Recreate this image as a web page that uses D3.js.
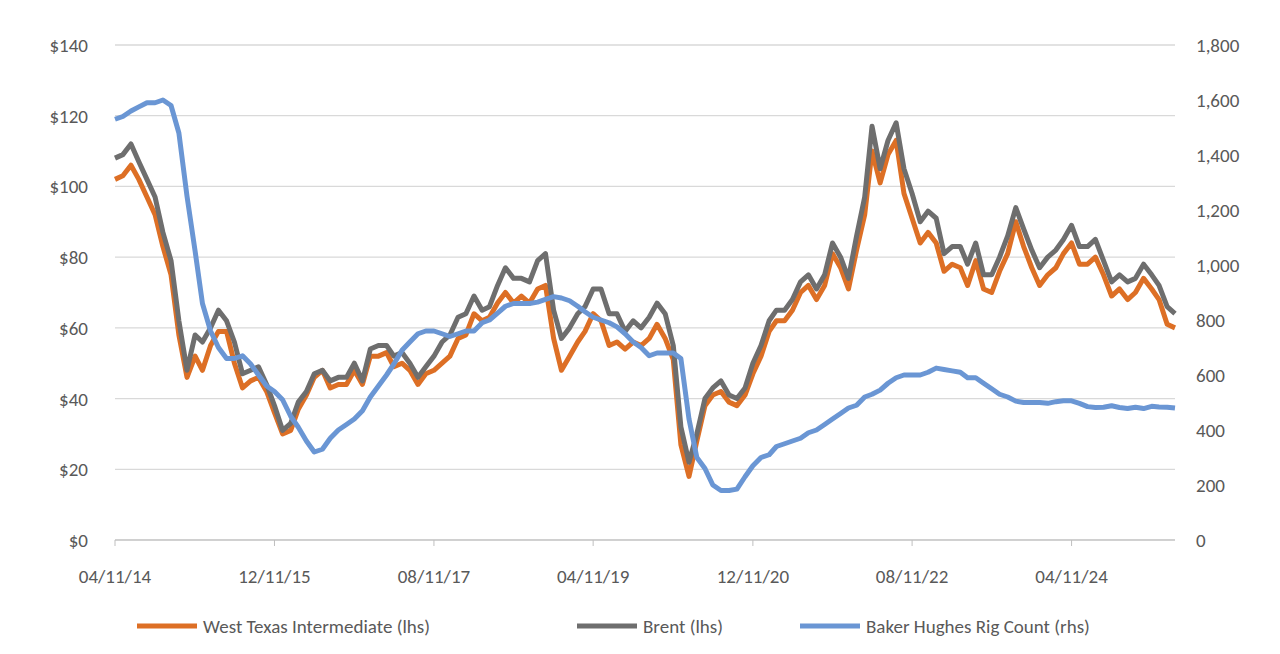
<!DOCTYPE html>
<html><head><meta charset="utf-8">
<script src="https://cdn.jsdelivr.net/npm/d3@7"></script>
<style>body{margin:0;background:#fff;font-family:Calibri,Carlito,"Liberation Sans",sans-serif}</style>
</head><body><svg id="c" width="1280" height="654"></svg>
<script>
const startMonth = "2014-04";
const brent = [108,109,112,107,102,97,87,79,62,
48,58,56,60,65,62,56,47,48,49,44,38,
31,33,39,42,47,48,45,46,46,50,45,54,
55,55,52,53,50,46,49,52,56,58,63,64,
69,65,66,72,77,74,74,73,79,81,65,57,
60,64,66,71,71,64,64,59,62,60,63,67,
64,55,32,22,30,40,43,45,41,40,43,50,
55,62,65,65,68,73,75,71,75,84,80,74,
86,97,117,105,113,118,105,98,90,93,91,81,
83,83,78,84,75,75,80,86,94,88,82,77,
80,82,85,89,83,83,85,79,73,75,73,74,
78,75,72,66,64];
const wti = [102,103,106,102,97,92,83,75,58,
46,52,48,55,59,59,50,43,45,46,42,36,
30,31,37,41,46,48,43,44,44,48,44,52,
52,53,49,50,48,44,47,48,50,52,57,58,
64,62,63,67,70,67,69,67,71,72,57,48,
52,56,59,64,62,55,56,54,56,55,57,61,
57,51,27,18,28,38,41,42,39,38,41,47,
52,59,62,62,65,70,72,68,72,81,77,71,
82,92,110,101,109,113,98,91,84,87,84,76,
78,77,72,79,71,70,76,81,90,83,77,72,
75,77,81,84,78,78,80,75,69,71,68,70,
74,71,68,61,60];
const rigs = [1530,1540,1560,1575,1590,1590,1600,1580,1480,
1250,1050,860,760,700,660,660,670,640,600,560,540,
510,450,410,360,320,330,370,400,420,440,470,520,
560,600,640,690,720,750,760,760,750,740,750,760,
760,790,800,825,850,860,860,860,865,875,885,880,
870,850,830,810,800,790,775,750,720,700,670,680,
680,680,660,440,300,260,200,180,180,185,230,270,
300,310,340,350,360,370,390,400,420,440,460,480,
490,520,530,545,570,590,600,600,600,610,625,620,
615,610,590,590,570,550,530,520,505,500,500,500,
497,503,506,506,497,485,482,483,488,482,478,483,
478,486,484,483,480];
const leftTicks = [0,20,40,60,80,100,120,140];
const rightTicks = [0,200,400,600,800,1000,1200,1400,1600,1800];
const xTickLabels = ["04/11/14","12/11/15","08/11/17","04/11/19","12/11/20","08/11/22","04/11/24"];
const xTickDates = ["2014-04-11","2015-12-11","2017-08-11","2019-04-11","2020-12-11","2022-08-11","2024-04-11"];
const seriesNames = ["West Texas Intermediate (lhs)","Brent (lhs)","Baker Hughes Rig Count (rhs)"];
const colors = ["#DD6F25","#6E6E6E","#6A96D4"];

const svg = d3.select("#c");
const pd = d3.timeParse("%Y-%m-%d");
const dates = brent.map((_,i)=>{const d=pd("2014-04-11");d.setMonth(d.getMonth()+i);return d;});
const x = d3.scaleTime().domain([pd("2014-04-11"), dates[dates.length-1]]).range([115,1175]);
const yL = d3.scaleLinear().domain([0,140]).range([540,45]);
const yR = d3.scaleLinear().domain([0,1800]).range([540,45]);

const g = svg.append("g");
g.selectAll("line.grid").data(leftTicks).join("line")
 .attr("x1",115).attr("x2",1175).attr("y1",d=>yL(d)).attr("y2",d=>yL(d))
 .attr("stroke","#d9d9d9").attr("stroke-width",1.3);

const fontSz = 19, txtCol = "#595959";
g.selectAll("text.l").data(leftTicks).join("text").attr("x",88).attr("y",d=>yL(d)+7)
 .attr("text-anchor","end").attr("font-size",fontSz).attr("fill",txtCol).text(d=>"$"+d);
g.selectAll("text.r").data(rightTicks).join("text").attr("x",1196).attr("y",d=>yR(d)+7)
 .attr("text-anchor","start").attr("font-size",fontSz).attr("fill",txtCol).text(d=>d3.format(",")(d));
g.append("line").attr("x1",115).attr("x2",1175).attr("y1",540).attr("y2",540).attr("stroke","#bfbfbf");
xTickDates.forEach((s,i)=>{
  const xx = x(pd(s));
  g.append("line").attr("x1",xx).attr("x2",xx).attr("y1",540).attr("y2",546).attr("stroke","#bfbfbf");
  g.append("text").attr("x",xx).attr("y",583).attr("text-anchor","middle").attr("font-size",fontSz).attr("fill",txtCol).text(xTickLabels[i]);
});

const mk = (arr,ys)=>d3.line().x((d,i)=>x(dates[i])).y(d=>ys(d))(arr);
[[wti,yL,0],[brent,yL,1],[rigs,yR,2]].forEach(([a,s,c])=>{
  g.append("path").attr("d",mk(a,s)).attr("fill","none").attr("stroke",colors[c])
   .attr("stroke-width",5).attr("stroke-linejoin","round");
});

const legX = [137,577,800];
seriesNames.forEach((n,i)=>{
  g.append("line").attr("x1",legX[i]).attr("x2",legX[i]+60).attr("y1",626).attr("y2",626).attr("stroke",colors[i]).attr("stroke-width",5);
  g.append("text").attr("x",legX[i]+66).attr("y",633).attr("font-size",fontSz).attr("fill",txtCol).text(n);
});
</script></body></html>
